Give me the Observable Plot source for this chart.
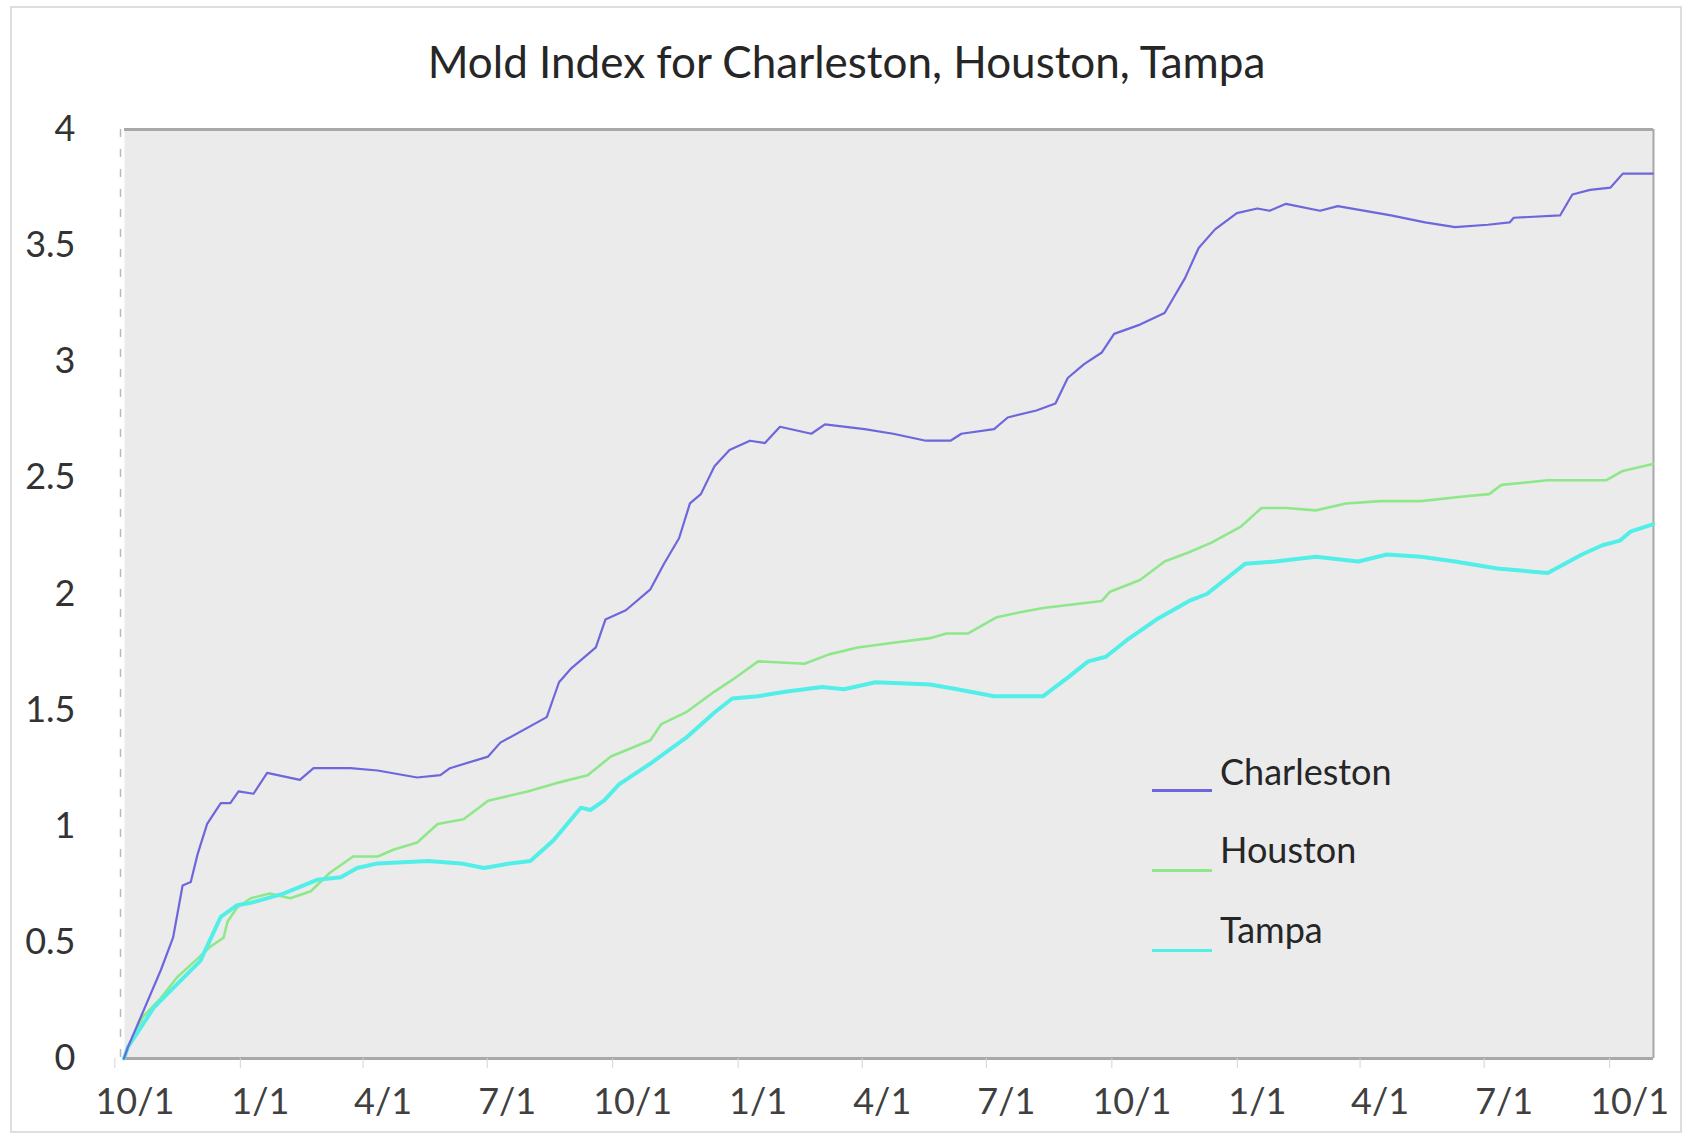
<!DOCTYPE html>
<html><head><meta charset="utf-8">
<script src="https://cdn.jsdelivr.net/npm/d3@7"></script>
<script src="https://cdn.jsdelivr.net/npm/@observablehq/plot@0.6"></script>
<style>
body{margin:0;background:#fff;font-family:Lato,"Open Sans",sans-serif;}
#wrap{position:relative;width:1685px;height:1140px;overflow:hidden;background:#fff;}
#border{position:absolute;left:10px;top:6px;width:1672px;height:1127px;border:2px solid #dedede;box-sizing:border-box;}
#title{position:absolute;left:0;top:39px;width:1685px;padding-left:8px;box-sizing:border-box;text-align:center;font-size:44px;line-height:44px;color:#262626;}
#chart{position:absolute;left:0;top:100px;}
.lg-line{position:absolute;left:1152px;width:60px;height:3px;}
.lg-text{position:absolute;left:1220px;font-size:36px;line-height:36px;color:#262626;}
</style></head>
<body>
<div id="wrap">
  <div id="border"></div>
  <div id="title">Mold Index for Charleston, Houston, Tampa</div>
  <div id="chart"></div>
</div>
<script>
// ---- data (days since 10/1 of the first year, mold index) ----
const seriesNames = ["Charleston", "Houston", "Tampa"];
const seriesColors = ["#6d66dc", "#8ee88a", "#52eee8"];
const seriesWidths = [2.2, 2.6, 4];

const charlestonDay = [-8,-5,19,28,35,41,46,53,63,70,76,87,97,121,131,158,178,207,224,231,259,268,302,311,320,338,345,360,378,388,399,407,415,425,436,451,462,473,496,506,535,556,580,598,606,630,640,661,675,684,696,709,718,737,755,762,770,780,792,808,823,832,844,869,882,921,946,968,992,1008,1011,1045,1054,1067,1082,1091,1113];
const charlestonVal = [0,0.05,0.38,0.52,0.745,0.76,0.88,1.01,1.10,1.10,1.15,1.14,1.23,1.20,1.25,1.25,1.24,1.21,1.22,1.25,1.30,1.36,1.47,1.62,1.68,1.77,1.89,1.93,2.02,2.13,2.24,2.39,2.43,2.55,2.62,2.66,2.65,2.72,2.69,2.73,2.71,2.69,2.66,2.66,2.69,2.71,2.76,2.79,2.82,2.93,2.99,3.04,3.12,3.16,3.21,3.28,3.36,3.49,3.57,3.64,3.66,3.65,3.68,3.65,3.67,3.63,3.60,3.58,3.59,3.60,3.62,3.63,3.72,3.74,3.75,3.81,3.81];

const houstonDay = [-8,-5,6,19,31,46,55,65,68,75,85,99,114,129,143,160,178,190,207,222,241,259,288,312,332,349,378,386,404,425,438,457,491,509,530,556,583,595,611,632,648,666,709,715,737,755,773,789,811,826,844,866,888,913,943,974,993,1002,1020,1036,1079,1091,1113];
const houstonVal = [0,0.05,0.18,0.26,0.35,0.43,0.48,0.52,0.59,0.65,0.69,0.71,0.69,0.72,0.80,0.87,0.87,0.90,0.93,1.01,1.03,1.11,1.15,1.19,1.22,1.30,1.37,1.44,1.49,1.58,1.63,1.71,1.70,1.74,1.77,1.79,1.81,1.83,1.83,1.90,1.92,1.94,1.97,2.01,2.06,2.14,2.18,2.22,2.29,2.37,2.37,2.36,2.39,2.40,2.40,2.42,2.43,2.47,2.48,2.49,2.49,2.53,2.56];

const tampaDay = [-8,-5,14,31,48,63,75,85,109,134,151,163,178,215,239,256,275,290,307,327,334,344,355,378,404,425,438,457,478,504,520,543,583,603,630,666,684,699,712,727,749,773,786,814,836,866,897,918,943,968,999,1036,1061,1076,1089,1097,1113];
const tampaVal = [0,0.05,0.22,0.32,0.42,0.61,0.66,0.67,0.71,0.77,0.78,0.82,0.84,0.85,0.84,0.82,0.84,0.85,0.94,1.08,1.07,1.11,1.18,1.27,1.38,1.49,1.55,1.56,1.58,1.60,1.59,1.62,1.61,1.59,1.56,1.56,1.64,1.71,1.73,1.80,1.89,1.97,2.00,2.13,2.14,2.16,2.14,2.17,2.16,2.14,2.11,2.09,2.17,2.21,2.23,2.27,2.30];

const startDate = "2010-10-01";
const xDomainDays = [-7.6, 1113.5];
const xTickDates = ["2010-10-01","2011-01-01","2011-04-01","2011-07-01","2011-10-01","2012-01-01","2012-04-01","2012-07-01","2012-10-01","2013-01-01","2013-04-01","2013-07-01","2013-10-01"];
const xTickLabels = ["10/1","1/1","4/1","7/1","10/1","1/1","4/1","7/1","10/1","1/1","4/1","7/1","10/1"];
const yTicks = [0,0.5,1,1.5,2,2.5,3,3.5,4];
const yTickLabels = ["0","0.5","1","1.5","2","2.5","3","3.5","4"];

// ---- build ----
const t0 = Date.parse(startDate + "T00:00:00Z");
const DAY = 86400000;
const toDate = d => new Date(t0 + d * DAY);
const dayArrays = [charlestonDay, houstonDay, tampaDay];
const valArrays = [charlestonVal, houstonVal, tampaVal];
const series = seriesNames.map((name, k) => dayArrays[k].map((d, i) => ({city: name, date: toDate(d), value: valArrays[k][i]})));
const xTicks = xTickDates.map(s => new Date(s + "T00:00:00Z"));
const xLabelMap = new Map(xTicks.map((d, i) => [d.getTime(), xTickLabels[i]]));
const yLabelMap = new Map(yTicks.map((v, i) => [v, yTickLabels[i]]));
const xDomain = xDomainDays.map(toDate);

const drawOrder = [1, 2, 0];
const plot = Plot.plot({
  width: 1685,
  height: 1040,
  marginLeft: 124,
  marginRight: 32,
  marginTop: 29,
  marginBottom: 82,
  x: {type: "utc", domain: xDomain},
  y: {domain: [0, 4]},
  style: {fontFamily: "Lato, 'Open Sans', sans-serif", color: "#333", background: "transparent"},
  marks: [
    Plot.frame({fill: "#ebebeb", stroke: null}),
    Plot.ruleY([4], {stroke: "#a8a8a8", strokeWidth: 3}),
    Plot.ruleY([0], {stroke: "#a8a8a8", strokeWidth: 3}),
    Plot.ruleX([xDomain[1]], {stroke: "#a8a8a8", strokeWidth: 2}),
    Plot.ruleX([xDomain[0]], {stroke: "#b8b8b8", strokeWidth: 1.5, strokeDasharray: "8,12", dx: -4}),
    Plot.axisY(yTicks, {tickSize: 0, tickPadding: 49, fontSize: 36, fill: "#333", tickFormat: v => yLabelMap.get(v), label: null}),
    Plot.axisX(xTicks, {tickSize: 0, tickPadding: 30, fontSize: 36, fill: "#404040", tickFormat: d => xLabelMap.get(d.getTime()), label: null}),
    Plot.axisX(xTicks, {tickSize: 10, fill: "none", stroke: "#d4d4d4", dx: -20, label: null}),
    ...drawOrder.map(k => Plot.line(series[k], {x: "date", y: "value", stroke: seriesColors[k], strokeWidth: seriesWidths[k], curve: "linear"}))
  ]
});
document.getElementById("chart").appendChild(plot);

// ---- legend ----
const wrap = document.getElementById("wrap");
const legendLineTop = [789, 869, 949];
const legendTextTop = [753, 831, 911];
seriesNames.forEach((name, k) => {
  const ln = document.createElement("div");
  ln.className = "lg-line";
  ln.style.top = legendLineTop[k] + "px";
  ln.style.background = seriesColors[k];
  wrap.appendChild(ln);
  const tx = document.createElement("div");
  tx.className = "lg-text";
  tx.style.top = legendTextTop[k] + "px";
  tx.textContent = name;
  wrap.appendChild(tx);
});
</script>
</body></html>
